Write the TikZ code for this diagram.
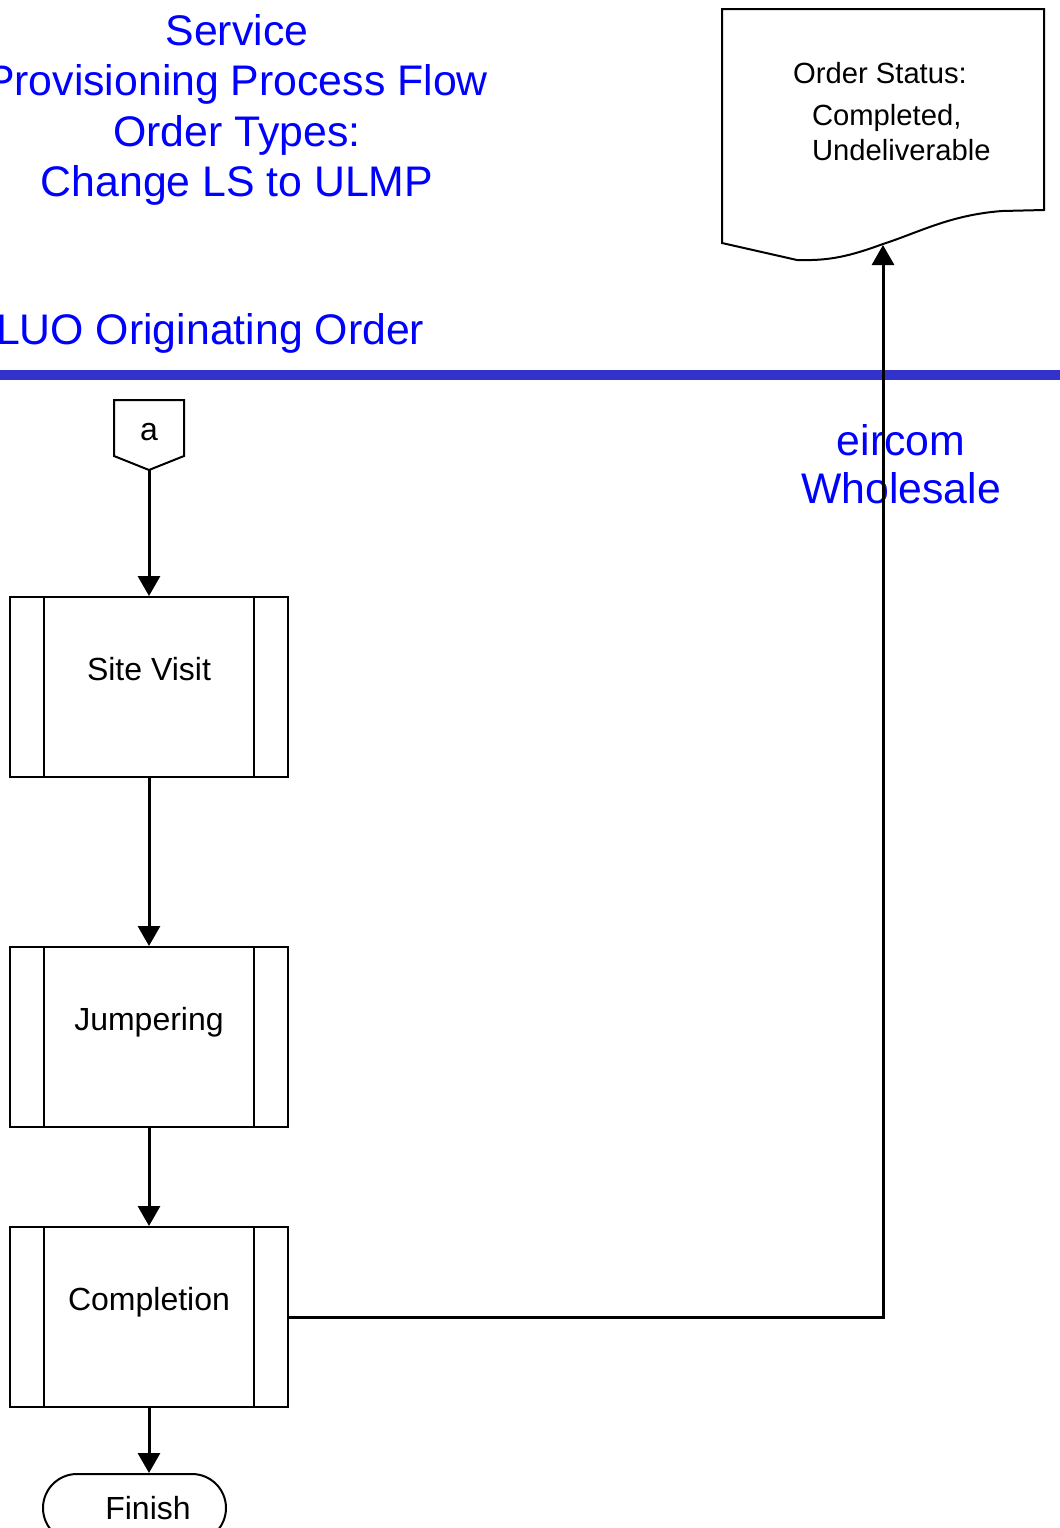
\documentclass[tikz,border=0pt]{standalone}
\usepackage{fontspec}
\setmainfont{Liberation Sans}
\usepackage{tikz}
\usetikzlibrary{arrows.meta, positioning, shapes.misc}
\definecolor{titleblue}{RGB}{0,0,255}
\definecolor{laneblue}{RGB}{51,51,204}
\tikzset{
  flow/.style={line width=1.5pt, -{Triangle[length=10pt, width=11pt]}},
  subproc/.style={draw, line width=1pt, minimum width=139pt, minimum height=90pt,
    inner sep=0pt, font=\fontsize{16}{19}\selectfont, text height=10pt, text depth=17pt,
    path picture={
      \draw[line width=1pt] ([xshift=17pt]path picture bounding box.north west)
        -- ([xshift=17pt]path picture bounding box.south west);
      \draw[line width=1pt] ([xshift=-17pt]path picture bounding box.north east)
        -- ([xshift=-17pt]path picture bounding box.south east);}},
  bluetext/.style={text=titleblue, font=\fontsize{21.4}{25.3}\selectfont, align=center}
}

\begin{document}
\begin{tikzpicture}[x=0.5pt, y=-0.5pt]
  \useasboundingbox (0,0) rectangle (1060,1528);

  \node[bluetext] (title) at (237,110)
    {Service\\Provisioning Process Flow\\Order Types:\\Change LS to ULMP};
  \node[bluetext, anchor=west] (lane) at (-11,333) {LUO Originating Order};
  \fill[laneblue] (0,370) rectangle (1060,380);
  \node[bluetext, font=\fontsize{21.4}{24}\selectfont] (wholesale) at (901,464) {eircom\\Wholesale};

  \draw[line width=1pt] (722,9) -- (1044,9) -- (1044,210) -- (1002,211)
    .. controls (950,215) and (920,232) .. (883,244)
    .. controls (850,256) and (830,261) .. (797,260) -- (722,243) -- cycle;
  \coordinate (docbot) at (883,245);
  \node[font=\fontsize{14.6}{17}\selectfont] (status) at (880,73) {Order Status:};
  \node[font=\fontsize{14.6}{17.5}\selectfont, align=left, anchor=west] (statusval) at (805,133)
    {Completed,\\Undeliverable};

  \draw[line width=1pt] (114,400) -- (184,400) -- (184,456) -- (149,470) -- (114,456) -- cycle;
  \node[font=\fontsize{16}{19}\selectfont] (conn) at (149,432) {a};
  \coordinate (conntip) at (149,470);

  \node[subproc] (site) at (149,687) {Site Visit};
  \node[subproc] (jumper) at (149,1037) {Jumpering};
  \node[subproc] (completion) at (149,1317) {Completion};
  \node[draw, line width=1pt, rounded rectangle, minimum width=91.5pt, minimum height=34pt,
    inner sep=0pt, font=\fontsize{16}{19}\selectfont] (finish) at (134.5,1508)
    {\hspace*{13.5pt}Finish};

  \draw[flow] (conntip) -- (site);
  \draw[flow] (site) -- (jumper);
  \draw[flow] (jumper) -- (completion);
  \draw[flow] (completion.south) -- (completion.south |- finish.north);
  \draw[flow] (completion.east) -| (docbot);
\end{tikzpicture}
\end{document}
